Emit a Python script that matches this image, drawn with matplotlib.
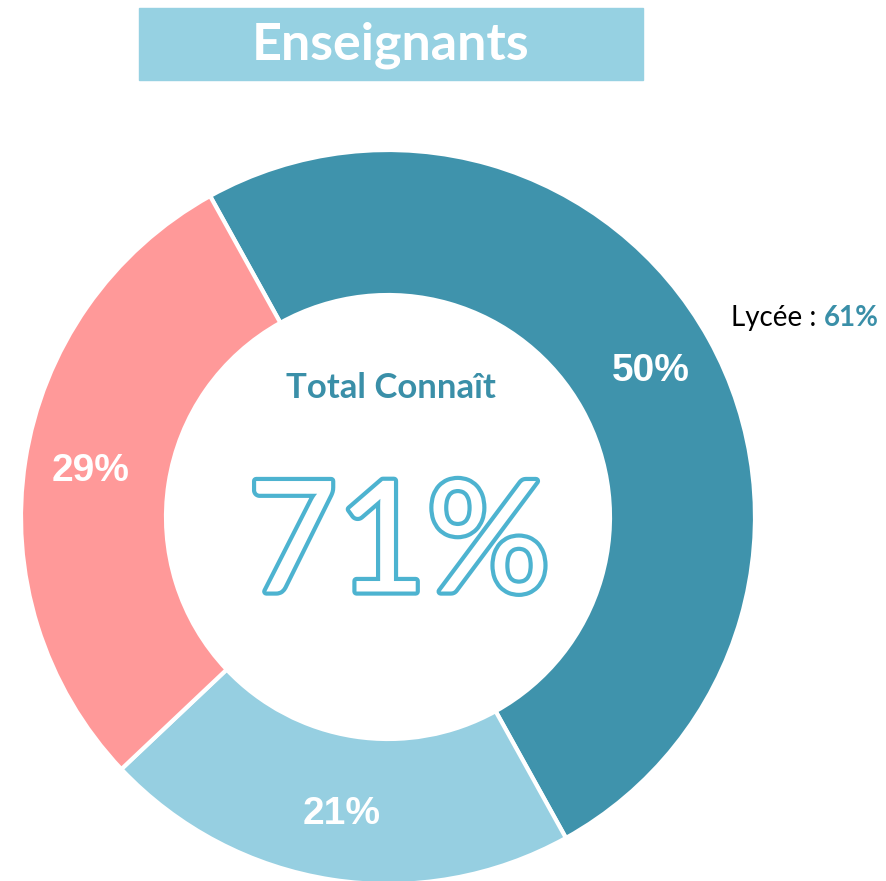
import matplotlib.pyplot as plt
import matplotlib.patheffects as pe

segments = ["Connaît - Lycée", "Connaît - autre", "Ne connaît pas"]
values = [50, 21, 29]
colors = ["#3F93AC", "#96CFE1", "#FF9999"]
title = "Enseignants"
total_label = "Total Connaît"
total_value = "71%"
lycee_value = "61%"

fig = plt.figure(figsize=(8.87, 8.81), dpi=100)
ax = fig.add_axes([0, 0, 1, 1])

wedges, texts, autotexts = ax.pie(
    values, colors=colors, startangle=119, counterclock=False,
    center=(388, 364), radius=367,
    wedgeprops=dict(width=145, edgecolor="white", linewidth=3),
    autopct="%d%%", pctdistance=0.82,
    textprops=dict(color="white", fontsize=28, fontweight="bold",
                   family="Liberation Sans"))

ax.set_xlim(0, 887)
ax.set_ylim(0, 881)
ax.set_aspect("equal")
ax.axis("off")

# title box
ax.add_patch(plt.Rectangle((139, 881 - 80), 504, 72, color="#96D1E2", zorder=3))
ax.text(391, 881 - 45, title, ha="center", va="center", color="white",
        fontsize=37.5, fontweight="bold", family="Lato", zorder=4)

# centre texts
ax.text(391, 881 - 388, total_label, ha="center", va="center",
        color="#3A8FA8", fontsize=25, fontweight="bold", family="Lato")
ax.text(399, 881 - 548, total_value, ha="center", va="center",
        color="white", fontsize=111, family="Lato",
        path_effects=[pe.Stroke(linewidth=6, foreground="#4DB3D0"), pe.Normal()])

t = ax.text(731, 881 - 318, "Lycée : ", ha="left", va="center",
            color="black", fontsize=20, family="Lato")
ax.annotate(lycee_value, xy=(1, 0.5), xycoords=t, ha="left", va="center",
            color="#3A8FA8", fontsize=20, fontweight="bold", family="Lato")

fig.savefig("out.png", dpi=100)
